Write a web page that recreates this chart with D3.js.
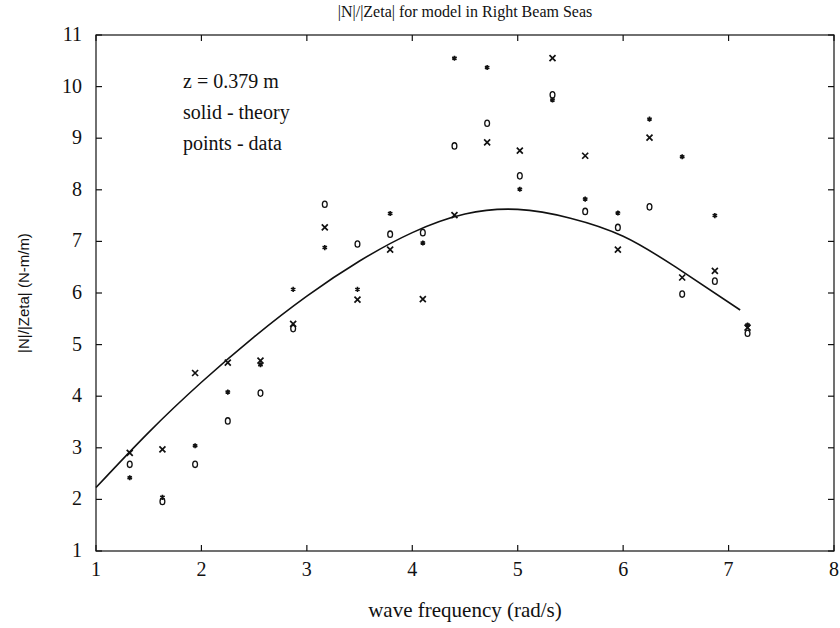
<!DOCTYPE html>
<html>
<head>
<meta charset="utf-8">
<script src="https://cdn.jsdelivr.net/npm/d3@7"></script>
<style>
  body { margin: 0; background: #fff; }
  svg text { font-family: "Liberation Serif", "Times New Roman", serif; fill: #111; }
</style>
</head>
<body>
<svg id="chart" width="840" height="628"></svg>
<script>
// ---- data ----
const freq = [1.32, 1.63, 1.94, 2.25, 2.56, 2.87, 3.17, 3.48, 3.79, 4.10, 4.40, 4.71, 5.02, 5.33, 5.64, 5.95, 6.25, 6.56, 6.87, 7.18];
const xMarkData = [2.90, 2.97, 4.45, 4.65, 4.69, 5.40, 7.27, 5.87, 6.84, 5.88, 7.51, 8.92, 8.76, 10.55, 8.66, 6.84, 9.01, 6.30, 6.43, 5.33];
const starData  = [2.42, 2.04, 3.04, 4.08, 4.61, 6.07, 6.88, 6.07, 7.54, 6.97, 10.55, 10.37, 8.01, 9.74, 7.82, 7.55, 9.37, 8.64, 7.50, 5.38];
const circleData = [2.68, 1.96, 2.68, 3.52, 4.06, 5.31, 7.72, 6.95, 7.14, 7.17, 8.85, 9.29, 8.27, 9.84, 7.58, 7.27, 7.67, 5.98, 6.23, 5.22];
const theoryX = [1.0, 1.5, 2.0, 2.5, 3.0, 3.5, 4.0, 4.5, 5.0, 5.5, 6.0, 6.5, 7.11];
const theoryY = [2.23, 3.30, 4.27, 5.15, 5.94, 6.62, 7.17, 7.53, 7.62, 7.45, 7.10, 6.50, 5.67];
const xTicks = [1, 2, 3, 4, 5, 6, 7, 8];
const yTicks = [1, 2, 3, 4, 5, 6, 7, 8, 9, 10, 11];
const titleText = "|N|/|Zeta| for model in Right Beam Seas";
const xLabelText = "wave frequency (rad/s)";
const yLabelText = "|N|/|Zeta| (N-m/m)";
const noteLines = ["z = 0.379 m", "solid - theory", "points - data"];

// ---- layout ----
const svg = d3.select("#chart");
const L = 96, R = 834, T = 35, B = 551;
const x = d3.scaleLinear().domain([1, 8]).range([L, R]);
const y = d3.scaleLinear().domain([1, 11]).range([B, T]);
const g = svg.append("g");

// frame
g.append("rect").attr("x", L).attr("y", T).attr("width", R - L).attr("height", B - T)
  .attr("fill", "none").attr("stroke", "#111").attr("stroke-width", 1.2);

const tl = 6;
g.selectAll(".xtb").data(xTicks).join("line")
  .attr("x1", d => x(d)).attr("x2", d => x(d)).attr("y1", B).attr("y2", B - tl)
  .attr("stroke", "#111").attr("stroke-width", 1.2);
g.selectAll(".xtt").data(xTicks).join("line")
  .attr("x1", d => x(d)).attr("x2", d => x(d)).attr("y1", T).attr("y2", T + tl)
  .attr("stroke", "#111").attr("stroke-width", 1.2);
g.selectAll(".ytl").data(yTicks).join("line")
  .attr("x1", L).attr("x2", L + tl).attr("y1", d => y(d)).attr("y2", d => y(d))
  .attr("stroke", "#111").attr("stroke-width", 1.2);
g.selectAll(".ytr").data(yTicks).join("line")
  .attr("x1", R).attr("x2", R - tl).attr("y1", d => y(d)).attr("y2", d => y(d))
  .attr("stroke", "#111").attr("stroke-width", 1.2);

// tick labels
g.selectAll(".xl").data(xTicks).join("text")
  .attr("x", d => x(d)).attr("y", B + 25).attr("text-anchor", "middle")
  .attr("font-size", 20).text(d => d);
g.selectAll(".yl").data(yTicks).join("text")
  .attr("x", L - 14).attr("y", d => y(d) + 6).attr("text-anchor", "end")
  .attr("font-size", 20).text(d => d);

// title & labels
svg.append("text").attr("x", (L + R) / 2).attr("y", 17).attr("text-anchor", "middle")
  .attr("font-size", 16).text(titleText);
svg.append("text").attr("x", (L + R) / 2).attr("y", 617).attr("text-anchor", "middle")
  .attr("font-size", 21).text(xLabelText);
svg.append("text").attr("transform", `translate(29,${(T + B) / 2}) rotate(-90)`)
  .attr("text-anchor", "middle").attr("font-size", 15)
  .style("font-family", "'Liberation Sans', Arial, sans-serif").text(yLabelText);

// note
g.selectAll(".note").data(noteLines).join("text")
  .attr("x", 183).attr("y", (d, i) => 88 + i * 31)
  .attr("font-size", 20).text(d => d);

// theory curve
const theory = theoryX.map((v, i) => [v, theoryY[i]]);
g.append("path").datum(theory)
  .attr("d", d3.line().x(d => x(d[0])).y(d => y(d[1])).curve(d3.curveNatural))
  .attr("fill", "none").attr("stroke", "#111").attr("stroke-width", 1.6);

// markers
const xs = freq.map((f, i) => [f, xMarkData[i]]);
const ss = freq.map((f, i) => [f, starData[i]]);
const cs = freq.map((f, i) => [f, circleData[i]]);

g.selectAll(".mx").data(xs).join("path")
  .attr("transform", d => `translate(${x(d[0])},${y(d[1])})`)
  .attr("d", "M-3,-3L3,3M-3,3L3,-3")
  .attr("stroke", "#111").attr("stroke-width", 1.7).attr("fill", "none");

g.selectAll(".ms").data(ss).join("path")
  .attr("transform", d => `translate(${x(d[0])},${y(d[1])})`)
  .attr("d", d3.symbol(d3.symbolAsterisk, 18)())
  .attr("stroke", "#111").attr("stroke-width", 1.6).attr("fill", "none");

g.selectAll(".mo").data(cs).join("ellipse")
  .attr("cx", d => x(d[0])).attr("cy", d => y(d[1]))
  .attr("rx", 2.4).attr("ry", 3.2)
  .attr("stroke", "#111").attr("stroke-width", 1.3).attr("fill", "none");
</script>
</body>
</html>
